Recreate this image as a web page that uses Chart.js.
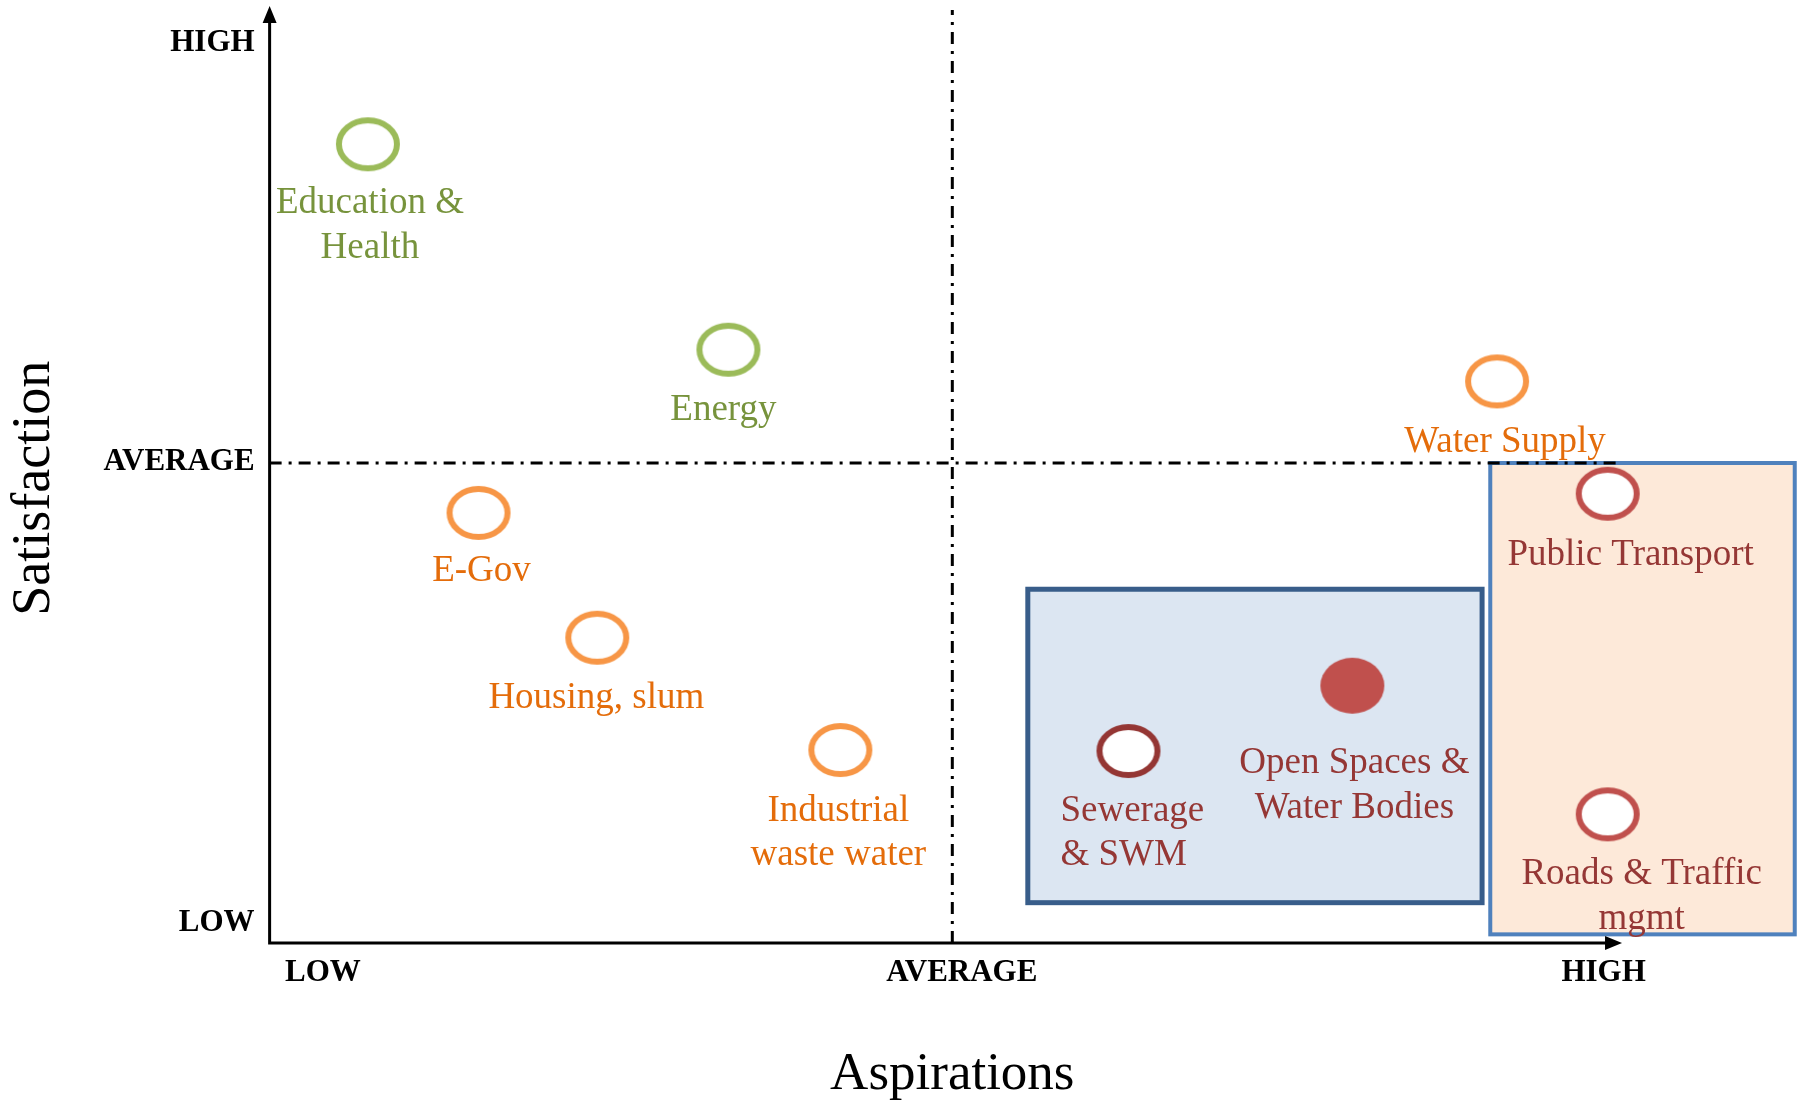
<!DOCTYPE html>
<html>
<head>
<meta charset="utf-8">
<script src="https://cdn.jsdelivr.net/npm/chart.js@4/dist/chart.umd.min.js"></script>
<style>
  html, body { margin: 0; padding: 0; background: #ffffff; }
  #wrap { position: relative; width: 1798px; height: 1102px; }
</style>
</head>
<body>
<div id="wrap"><canvas id="chart"></canvas></div>
<script>
// --- data (0..10 scale, 5 = average) ---
const services = ['Education &\nHealth', 'Energy', 'Water Supply', 'E-Gov', 'Housing, slum',
  'Industrial\nwaste water', 'Public Transport', 'Sewerage\n& SWM', 'Open Spaces &\nWater Bodies', 'Roads & Traffic\nmgmt'];
const aspirations = [0.72, 3.36, 8.99, 1.53, 2.40, 4.18, 9.80, 6.29, 7.93, 9.80];
const satisfaction = [8.32, 6.18, 5.85, 4.48, 3.18, 2.01, 4.68, 2.00, 2.68, 1.34];
const groups = ['green', 'green', 'orange', 'orange', 'orange', 'orange', 'red', 'darkred', 'redfill', 'red'];

const xTickValues = [0.39, 5.07, 9.77];
const xTickLabels = ['LOW', 'AVERAGE', 'HIGH'];
const yTickValues = [0.21, 5.01, 9.38];
const yTickLabels = ['LOW', 'AVERAGE', 'HIGH'];

const FONT = '"Liberation Serif", "Times New Roman", serif';

const strokeCol = { green: '#9BBB59', orange: '#F79646', red: '#C0504D', darkred: '#943634', redfill: '#C0504D' };
const textCol = { green: '#77933C', orange: '#E46C0A', red: '#953735', darkred: '#953735', redfill: '#953735' };

// ellipse marker images
function ellipseMarker(key) {
  const c = document.createElement('canvas');
  c.width = 70; c.height = 60;
  const g = c.getContext('2d');
  g.beginPath();
  if (key === 'redfill') {
    g.ellipse(35, 30, 32, 28, 0, 0, Math.PI * 2);
    g.fillStyle = strokeCol[key];
    g.fill();
  } else {
    g.ellipse(35, 30, 29, 24, 0, 0, Math.PI * 2);
    g.fillStyle = '#ffffff';
    g.fill();
    g.lineWidth = 6;
    g.strokeStyle = strokeCol[key];
    g.stroke();
  }
  return c;
}
const markers = {};
Object.keys(strokeCol).forEach(k => { markers[k] = ellipseMarker(k); });

// label offsets from the marker centre (px) and alignment
const labelOffsets = [[2, 59], [-5, 61], [8, 61], [3, 58], [-1, 61], [-2, 61], [23, 62], [-68, 60, 'left'], [2, 78], [34, 60]];

// shaded groups, in data units
const boxes = [
  { xMin: 5.553, xMax: 8.88, yMin: 0.42, yMax: 3.685, fill: '#DCE6F2', stroke: '#385D8A', width: 5 },
  { xMin: 8.94, xMax: 11.17, yMin: 0.09, yMax: 5.0, fill: '#FDE9D9', stroke: '#4F81BD', width: 4 }
];

const quadrantPlugin = {
  id: 'quadrant',
  beforeDatasetsDraw(chart) {
    const { ctx, scales: { x, y } } = chart;
    ctx.save();
    boxes.forEach(b => {
      const l = x.getPixelForValue(b.xMin), r = x.getPixelForValue(b.xMax);
      const t = y.getPixelForValue(b.yMax), bt = y.getPixelForValue(b.yMin);
      ctx.fillStyle = b.fill;
      ctx.fillRect(l, t, r - l, bt - t);
      ctx.lineWidth = b.width;
      ctx.strokeStyle = b.stroke;
      ctx.strokeRect(l, t, r - l, bt - t);
    });

    const x0 = x.getPixelForValue(0), y0 = y.getPixelForValue(0);
    const xEnd = x.getPixelForValue(9.905), yEnd = y.getPixelForValue(9.76);
    const xAvg = x.getPixelForValue(5), yAvg = y.getPixelForValue(5);

    // average lines, dash-dot
    ctx.strokeStyle = '#000000';
    ctx.lineWidth = 3;
    ctx.setLineDash([12, 7, 3, 7]);
    ctx.beginPath();
    ctx.moveTo(x0, yAvg); ctx.lineTo(xEnd, yAvg);
    ctx.moveTo(xAvg, y0); ctx.lineTo(xAvg, yEnd + 4);
    ctx.stroke();
    ctx.setLineDash([]);

    // axes with arrows
    ctx.lineWidth = 3;
    ctx.beginPath();
    ctx.moveTo(x0, y0); ctx.lineTo(xEnd - 14, y0);
    ctx.moveTo(x0, y0 + 1.5); ctx.lineTo(x0, yEnd + 14);
    ctx.stroke();
    ctx.fillStyle = '#000000';
    ctx.beginPath();
    ctx.moveTo(xEnd, y0); ctx.lineTo(xEnd - 17, y0 - 7); ctx.lineTo(xEnd - 17, y0 + 7); ctx.closePath();
    ctx.moveTo(x0, yEnd); ctx.lineTo(x0 - 7, yEnd + 17); ctx.lineTo(x0 + 7, yEnd + 17); ctx.closePath();
    ctx.fill();
    ctx.restore();
  },
  afterDatasetsDraw(chart) {
    const { ctx } = chart;
    const meta = chart.getDatasetMeta(0);
    ctx.save();
    ctx.font = '37px ' + FONT;
    ctx.textBaseline = 'middle';
    meta.data.forEach((pt, i) => {
      const [dx, dy, align] = labelOffsets[i];
      ctx.fillStyle = textCol[groups[i]];
      ctx.textAlign = align || 'center';
      services[i].split('\n').forEach((line, j) => {
        ctx.fillText(line, pt.x + dx, pt.y + dy + j * 44.5);
      });
    });
    ctx.restore();
  }
};

new Chart(document.getElementById('chart'), {
  type: 'scatter',
  data: {
    datasets: [{
      data: aspirations.map((v, i) => ({ x: v, y: satisfaction[i] })),
      pointStyle: groups.map(g => markers[g]),
      pointRadius: 30,
      pointHoverRadius: 30,
      clip: false
    }]
  },
  options: {
    responsive: true,
    maintainAspectRatio: false,
    animation: false,
    events: [],
    layout: { padding: { left: 0, right: 163, top: 0, bottom: 0 } },
    plugins: { legend: { display: false }, tooltip: { enabled: false } },
    scales: {
      x: {
        type: 'linear', min: 0, max: 10,
        grid: { display: false, drawTicks: false },
        border: { display: false },
        afterBuildTicks: s => { s.ticks = xTickValues.map(v => ({ value: v })); },
        ticks: {
          padding: 11, color: '#000000',
          font: { family: FONT, size: 31, weight: 'bold' },
          callback: (v, i) => xTickLabels[i]
        },
        title: {
          display: true, text: 'Aspirations', color: '#000000',
          font: { family: FONT, size: 53, lineHeight: 1.0 },
          padding: { top: 46.8, bottom: 0 }
        }
      },
      y: {
        type: 'linear', min: 0, max: 9.473,
        grid: { display: false, drawTicks: false },
        border: { display: false },
        afterBuildTicks: s => { s.ticks = yTickValues.map(v => ({ value: v })); },
        ticks: {
          padding: 15, color: '#000000',
          font: { family: FONT, size: 31, weight: 'bold' },
          callback: (v, i) => yTickLabels[i]
        },
        title: {
          display: true, text: 'Satisfaction', color: '#000000',
          font: { family: FONT, size: 54, lineHeight: 1.1 },
          padding: { top: 4.7, bottom: 24.5 }
        }
      }
    }
  },
  plugins: [quadrantPlugin]
});
</script>
</body>
</html>
